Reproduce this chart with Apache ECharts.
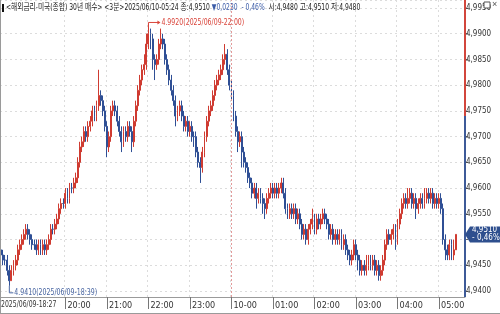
<!DOCTYPE html>
<html><head><meta charset="utf-8">
<script src="https://cdn.jsdelivr.net/npm/echarts@6/dist/echarts.min.js"></script>
<style>html,body{margin:0;padding:0;background:#fff;overflow:hidden}#c{width:500px;height:314px}</style>
</head><body><div id="c"></div>
<script>
// 3-minute candles, 2025/06/09 18:27 -> 2025/06/10 05:24
const startMinutes = 18 * 60 + 27;
const barMinutes = 3;
const openV = [4.948,4.947,4.946,4.946,4.944,4.942,4.944,4.945,4.946,4.948,4.949,4.950,4.951,4.952,4.951,4.950,4.949,4.949,4.948,4.949,4.948,4.949,4.948,4.949,4.950,4.952,4.952,4.953,4.954,4.956,
4.957,4.957,4.959,4.958,4.960,4.960,4.961,4.962,4.965,4.968,4.969,4.971,4.970,4.972,4.973,4.975,4.974,4.976,4.978,4.977,4.975,4.972,4.968,4.970,4.975,4.976,4.975,4.973,4.971,4.969,
4.971,4.970,4.972,4.971,4.969,4.973,4.976,4.979,4.981,4.983,4.984,4.988,4.990,4.989,4.985,4.984,4.985,4.988,4.989,4.988,4.985,4.983,4.981,4.979,4.977,4.974,4.975,4.976,4.974,4.972,
4.973,4.971,4.972,4.970,4.970,4.967,4.965,4.964,4.967,4.970,4.973,4.975,4.976,4.978,4.980,4.981,4.982,4.983,4.985,4.986,4.983,4.980,4.978,4.974,4.971,4.969,4.970,4.967,4.965,4.964,
4.962,4.961,4.959,4.960,4.958,4.959,4.958,4.957,4.956,4.958,4.959,4.960,4.959,4.960,4.959,4.960,4.961,4.959,4.956,4.955,4.956,4.955,4.956,4.954,4.955,4.953,4.951,4.952,4.950,4.952,
4.953,4.954,4.952,4.954,4.953,4.954,4.955,4.954,4.953,4.951,4.952,4.950,4.951,4.950,4.951,4.949,4.950,4.948,4.947,4.946,4.947,4.949,4.947,4.946,4.944,4.945,4.944,4.945,4.946,4.945,
4.946,4.944,4.945,4.943,4.944,4.946,4.949,4.951,4.950,4.951,4.952,4.950,4.953,4.955,4.957,4.958,4.957,4.958,4.959,4.957,4.958,4.956,4.957,4.958,4.957,4.958,4.959,4.958,4.959,4.957,
4.958,4.957,4.958,4.956,4.950,4.948,4.947,4.949,4.947,4.948];
const closeV = [4.947,4.946,4.946,4.944,4.942,4.944,4.945,4.946,4.948,4.949,4.950,4.951,4.952,4.951,4.950,4.949,4.949,4.948,4.949,4.948,4.949,4.948,4.949,4.950,4.952,4.952,4.953,4.954,4.956,4.957,
4.957,4.959,4.958,4.960,4.960,4.961,4.962,4.965,4.968,4.969,4.971,4.970,4.972,4.973,4.975,4.974,4.976,4.978,4.977,4.975,4.972,4.968,4.970,4.975,4.976,4.975,4.973,4.971,4.969,4.971,
4.970,4.972,4.971,4.969,4.973,4.976,4.979,4.981,4.983,4.984,4.988,4.990,4.989,4.985,4.984,4.985,4.988,4.989,4.988,4.985,4.983,4.981,4.979,4.977,4.974,4.975,4.976,4.974,4.972,4.973,
4.971,4.972,4.970,4.970,4.967,4.965,4.964,4.967,4.970,4.973,4.975,4.976,4.978,4.980,4.981,4.982,4.983,4.985,4.986,4.983,4.980,4.978,4.974,4.971,4.969,4.970,4.967,4.965,4.964,4.962,
4.961,4.959,4.960,4.958,4.959,4.958,4.957,4.956,4.958,4.959,4.960,4.959,4.960,4.959,4.960,4.961,4.959,4.956,4.955,4.956,4.955,4.956,4.954,4.955,4.953,4.951,4.952,4.950,4.952,4.953,
4.954,4.952,4.954,4.953,4.954,4.955,4.954,4.953,4.951,4.952,4.950,4.951,4.950,4.951,4.949,4.950,4.948,4.947,4.946,4.947,4.949,4.947,4.946,4.944,4.945,4.944,4.945,4.946,4.945,4.946,
4.944,4.945,4.943,4.944,4.946,4.949,4.951,4.950,4.951,4.952,4.950,4.953,4.955,4.957,4.958,4.957,4.958,4.959,4.957,4.958,4.956,4.957,4.958,4.957,4.958,4.959,4.958,4.959,4.957,4.958,
4.957,4.958,4.956,4.950,4.948,4.947,4.949,4.947,4.948,4.951];
const lowV = [4.946,4.945,4.945,4.943,4.941,4.942,4.943,4.944,4.945,4.947,4.948,4.949,4.950,4.950,4.949,4.948,4.948,4.947,4.947,4.947,4.947,4.947,4.947,4.948,4.949,4.951,4.951,4.952,4.953,4.955,
4.956,4.956,4.957,4.957,4.959,4.959,4.960,4.961,4.964,4.967,4.968,4.969,4.969,4.971,4.972,4.973,4.973,4.975,4.976,4.974,4.971,4.966,4.967,4.969,4.974,4.974,4.972,4.970,4.967,4.968,
4.969,4.969,4.970,4.967,4.968,4.972,4.975,4.978,4.980,4.982,4.983,4.987,4.987,4.983,4.981,4.983,4.984,4.987,4.987,4.984,4.982,4.980,4.978,4.976,4.972,4.973,4.974,4.973,4.971,4.971,
4.970,4.970,4.969,4.968,4.966,4.964,4.961,4.963,4.966,4.969,4.972,4.974,4.975,4.977,4.979,4.980,4.981,4.982,4.984,4.982,4.979,4.977,4.973,4.970,4.967,4.968,4.964,4.964,4.963,4.961,
4.960,4.958,4.958,4.956,4.957,4.957,4.955,4.954,4.955,4.957,4.958,4.958,4.958,4.958,4.958,4.959,4.958,4.955,4.954,4.954,4.954,4.954,4.953,4.953,4.952,4.950,4.950,4.949,4.949,4.951,
4.952,4.951,4.951,4.952,4.952,4.953,4.953,4.952,4.950,4.950,4.949,4.949,4.949,4.949,4.948,4.948,4.947,4.946,4.945,4.945,4.946,4.946,4.944,4.943,4.943,4.943,4.943,4.944,4.944,4.944,
4.943,4.943,4.942,4.942,4.943,4.945,4.948,4.949,4.949,4.950,4.948,4.949,4.952,4.954,4.956,4.956,4.956,4.957,4.956,4.956,4.954,4.955,4.956,4.956,4.956,4.957,4.957,4.957,4.956,4.956,
4.956,4.956,4.955,4.949,4.946,4.946,4.946,4.946,4.946,4.948];
const highV = [4.949,4.948,4.947,4.947,4.945,4.945,4.946,4.947,4.949,4.950,4.951,4.952,4.953,4.953,4.952,4.951,4.950,4.950,4.950,4.950,4.950,4.950,4.950,4.951,4.953,4.953,4.954,4.955,4.957,4.958,
4.958,4.960,4.960,4.961,4.961,4.962,4.963,4.966,4.969,4.970,4.972,4.972,4.973,4.974,4.976,4.976,4.977,4.983,4.979,4.978,4.976,4.973,4.971,4.976,4.977,4.977,4.976,4.974,4.972,4.972,
4.972,4.973,4.973,4.972,4.974,4.977,4.980,4.982,4.984,4.986,4.990,4.992,4.991,4.990,4.986,4.986,4.989,4.991,4.990,4.989,4.986,4.984,4.982,4.980,4.978,4.976,4.977,4.977,4.975,4.974,
4.974,4.973,4.973,4.971,4.971,4.968,4.966,4.968,4.971,4.974,4.976,4.977,4.979,4.981,4.982,4.983,4.984,4.986,4.988,4.987,4.984,4.981,4.979,4.975,4.972,4.971,4.971,4.968,4.966,4.965,
4.963,4.962,4.961,4.961,4.960,4.960,4.959,4.958,4.959,4.960,4.961,4.961,4.961,4.961,4.961,4.962,4.962,4.960,4.957,4.957,4.957,4.957,4.957,4.956,4.956,4.954,4.953,4.953,4.953,4.954,
4.956,4.955,4.955,4.955,4.955,4.956,4.956,4.955,4.954,4.953,4.953,4.952,4.952,4.952,4.952,4.951,4.951,4.949,4.948,4.948,4.950,4.950,4.948,4.947,4.946,4.946,4.947,4.947,4.947,4.947,
4.947,4.946,4.946,4.945,4.947,4.950,4.952,4.952,4.952,4.953,4.953,4.954,4.956,4.958,4.959,4.959,4.960,4.960,4.960,4.959,4.959,4.958,4.959,4.959,4.960,4.960,4.960,4.960,4.960,4.959,
4.959,4.959,4.959,4.957,4.951,4.949,4.950,4.950,4.950,4.951];
const tickIndex = [0, 31, 51, 71, 91, 111, 131, 151, 171, 191, 211];
const tickLabels = ['2025/06/09-18:27','20:00','21:00','22:00','23:00','10-00','01:00','02:00','03:00','04:00','05:00'];
const dayChangeIndex = 111;
const prevClose = 4.974;
const lastOpen = 4.948, lastHigh = 4.951, lastLow = 4.948, lastClose = 4.951;
const change = -0.023, changePct = -0.46;
const highIdx = 71, lowIdx = 4;
const highText = '4.9920(2025/06/09-22:00)';
const lowText = '4.9410(2025/06/09-18:39)';
const extraSlots = 4;

const RED = '#cf3b31', BLUE = '#2f4f95';
const FONT = "'Liberation Sans Narrow','DejaVu Sans Condensed','Noto Sans CJK KR',sans-serif";

const cats = [];
for (let i = 0; i < closeV.length + extraSlots; i++) {
  const m = (startMinutes + i * barMinutes) % (24 * 60);
  cats.push(String(Math.floor(m / 60)).padStart(2, '0') + ':' + String(m % 60).padStart(2, '0'));
}
const candles = closeV.map((c, i) => [openV[i], c, lowV[i], highV[i]]);
const isTick = (idx) => tickIndex.indexOf(idx) >= 0;
const comma = (v, d) => v.toFixed(d).replace('.', ',');

const chart = echarts.init(document.getElementById('c'), null, {renderer: 'canvas'});
chart.setOption({
  animation: false,
  backgroundColor: '#fff',
  grid: {left: 0, right: 35, top: 0, bottom: 17},
  xAxis: {
    type: 'category', data: cats, boundaryGap: true,
    axisLine: {lineStyle: {color: '#9a9a9a'}},
    axisTick: {show: true, interval: (i) => isTick(i), alignWithLabel: true, length: 12, lineStyle: {color: '#777'}},
    axisLabel: {interval: (i) => isTick(i), showMinLabel: false, align: 'left', margin: 4, padding: [0, 0, 0, 2],
      fontFamily: FONT, fontSize: 9, color: '#333',
      formatter: (v, i) => tickLabels[tickIndex.indexOf(i)] || ''},
    splitLine: {show: true, interval: (i) => isTick(i), lineStyle: {color: '#dcdcdc', type: [2, 3]}}
  },
  yAxis: {
    type: 'value', position: 'right', scale: true,
    min: 4.93883, max: 4.99656, splitNumber: 11,
    axisLine: {show: false},
    axisTick: {show: true, length: 3, lineStyle: {color: '#666'}},
    axisLabel: {showMinLabel: false, showMaxLabel: false, margin: 1, fontFamily: FONT, fontSize: 8, color: '#333',
      formatter: (v) => Math.abs(v - 4.95) < 1e-6 ? '' : comma(v, 4)},
    splitLine: {show: true, lineStyle: {color: '#dcdcdc', type: [2, 3]}}
  },
  series: [{
    type: 'candlestick', data: candles, barWidth: 1.4,
    itemStyle: {color: RED, color0: BLUE, borderColor: RED, borderColor0: BLUE, borderColorDoji: BLUE, borderWidth: 1},
    markLine: {silent: true, symbol: 'none', label: {show: false},
      lineStyle: {color: '#e39a9a', type: [2, 2], width: 1},
      data: [{xAxis: cats[dayChangeIndex]}]}
  }]
});

const px = (idx, v) => chart.convertToPixel({gridIndex: 0}, [idx, v]);
const yPrev = chart.convertToPixel({yAxisIndex: 0}, prevClose);
const yLast = chart.convertToPixel({yAxisIndex: 0}, lastClose);
const hp = px(highIdx, highV[highIdx]);
const lp = px(lowIdx, lowV[lowIdx]);
const axisX = 465, plotBottom = 297;

chart.setOption({graphic: [
  {type: 'rect', shape: {x: axisX - 1, y: 0, width: 2, height: yPrev}, style: {fill: '#d2463c'}, z: 10},
  {type: 'rect', shape: {x: axisX - 1, y: yPrev, width: 2, height: plotBottom - yPrev}, style: {fill: '#3d5a98'}, z: 10},
  // first time label
  {type: 'text', x: 1, y: 305, scaleX: 0.76, z: 12, style: {text: tickLabels[0], fill: '#333', font: "9px " + FONT, verticalAlign: 'middle'}},
  // price tag
  {type: 'polygon', shape: {points: [[axisX, yLast], [axisX + 5, yLast - 8], [500, yLast - 8], [500, yLast + 8], [axisX + 5, yLast + 8]]},
    style: {fill: '#2e4f8e'}, z: 20},
  {type: 'text', x: axisX + 7, y: yLast - 8, z: 21,
    style: {text: comma(lastClose, 4) + '\n' + '- ' + comma(Math.abs(changePct), 2) + '%', fill: '#fff', font: "8px " + FONT, lineHeight: 8}},
  // high annotation
  {type: 'polyline', shape: {points: [[hp[0], hp[1] + 4], [hp[0], hp[1] - 1], [hp[0] + 11, hp[1] - 1]]}, style: {stroke: '#d9443a', lineWidth: 1, fill: null}, z: 15},
  {type: 'polygon', shape: {points: [[hp[0] + 12, hp[1] - 1], [hp[0] + 9, hp[1] - 3], [hp[0] + 9, hp[1] + 1]]}, style: {fill: '#d9443a'}, z: 15},
  {type: 'text', x: hp[0] + 13, y: hp[1] - 1, scaleX: 0.77, z: 15, style: {text: highText, fill: '#d9443a', font: "9px " + FONT, verticalAlign: 'middle'}},
  // low annotation
  {type: 'polyline', shape: {points: [[lp[0], lp[1]], [lp[0], lp[1] + 7], [lp[0] + 4, lp[1] + 7]]}, style: {stroke: '#4a67a3', lineWidth: 1, fill: null}, z: 15},
  {type: 'text', x: lp[0] + 5, y: lp[1] + 7, scaleX: 0.77, z: 15, style: {text: lowText, fill: '#4a67a3', font: "9px " + FONT, verticalAlign: 'middle'}},
  // title
  {type: 'rect', shape: {x: 2, y: 4, width: 2, height: 8}, style: {fill: '#111'}, z: 30},
  {type: 'text', x: 6, y: 3, scaleX: 0.745, z: 30, style: {
    text: '{a|<해외금리-미국(종합) 30년 매수> <3분>2025/06/10-05:24 종:' + comma(lastClose, 4) + ' }{b|▼' + comma(Math.abs(change), 4) + '  - ' + comma(Math.abs(changePct), 2) + '%}{a|  시:' + comma(lastOpen, 4) + ' 고:' + comma(lastHigh, 4) + ' 저:' + comma(lastLow, 4) + '}',
    rich: {a: {fill: '#222', font: "9px " + FONT}, b: {fill: '#3b5ca8', font: "9px " + FONT}}}},
  // window icons
  {type: 'rect', shape: {x: 484, y: 2, width: 6, height: 6}, style: {fill: '#fff', stroke: '#555', lineWidth: 1}, z: 30},
  {type: 'text', x: 492, y: 0, z: 30, style: {text: '×', fill: '#555', font: "9px sans-serif"}},
  // bottom & frame lines
  {type: 'line', shape: {x1: 0, y1: 313.5, x2: 500, y2: 313.5}, style: {stroke: '#9a9a9a'}, z: 5},
  {type: 'line', shape: {x1: 0.5, y1: 0, x2: 0.5, y2: 314}, style: {stroke: '#9a9a9a'}, z: 5}
]});
</script></body></html>
